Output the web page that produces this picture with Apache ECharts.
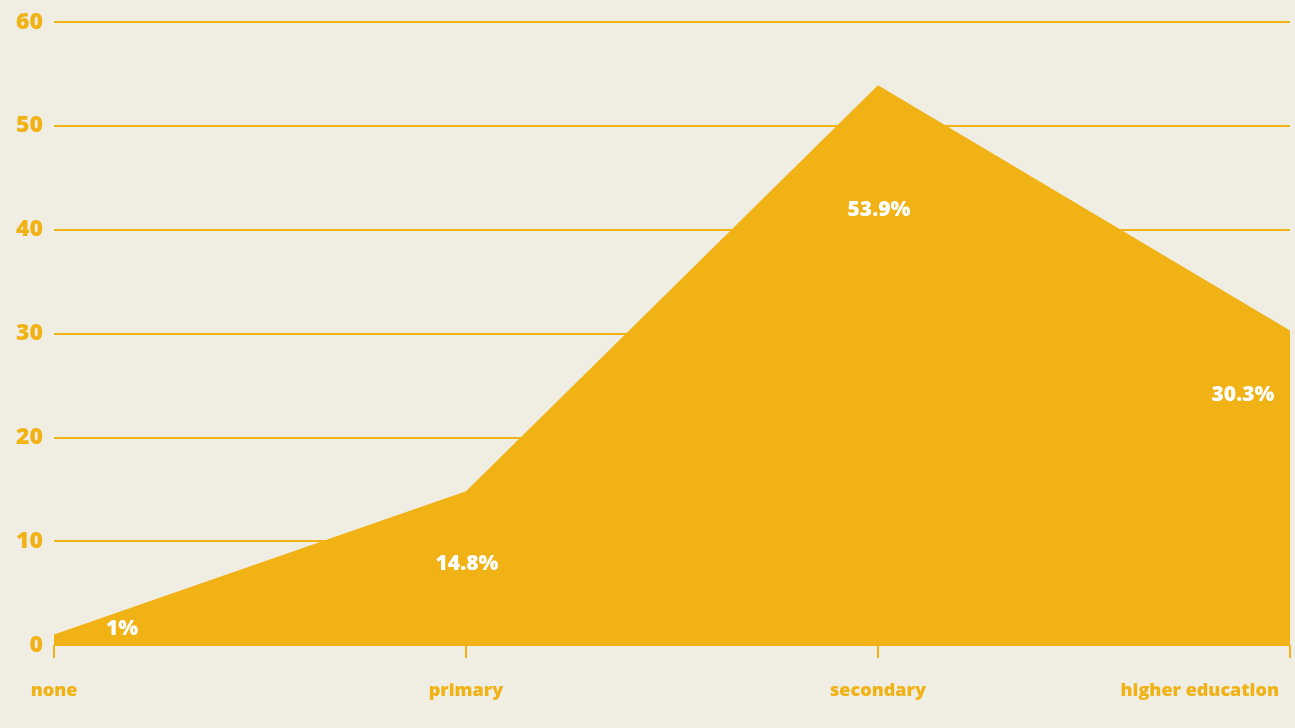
<!DOCTYPE html>
<html>
<head>
    <meta charset="utf-8">
    <title>education level</title>
    <style>
        html, body { margin: 0; padding: 0; background: #f0ede3; }
        #main { width: 1295px; height: 728px; }
    </style>
    <script src="https://cdn.jsdelivr.net/npm/echarts@6/dist/echarts.min.js"></script>
</head>
<body>
<div id="main"></div>
<script type="text/javascript">
    // data
    var categories = ['none', 'primary', 'secondary', 'higher education'];
    var shares = [1, 14.8, 53.9, 30.3];
    var yTicks = { min: 0, max: 60, interval: 10 };

    var orange = '#f0b214';
    var font = '"Open Sans", sans-serif';

    // where each value label sits relative to its point
    var labelOffsets = [[68, 10], [1, 88], [1, 140], [-47, 80]];

    var seriesData = shares.map(function (v, i) {
        return {
            value: v,
            label: { offset: labelOffsets[i] }
        };
    });

    // last category label is right-aligned, pulled in a bit from the edge
    var catData = categories.map(function (c, i) {
        if (i === categories.length - 1) {
            return { value: c, textStyle: { align: 'right', padding: [0, 11, 0, 0] } };
        }
        return c;
    });

    var myChart = echarts.init(document.getElementById('main'));

    var option = {
        backgroundColor: '#f0ede3',
        animation: false,
        grid: { left: 54, right: 5, top: 22, bottom: 83, outerBoundsMode: 'none' },
        xAxis: {
            type: 'category',
            data: catData,
            boundaryGap: false,
            axisLine: { show: false },
            axisTick: {
                show: true,
                alignWithLabel: true,
                length: 13,
                lineStyle: { color: orange, width: 2 }
            },
            axisLabel: {
                color: orange,
                fontFamily: font,
                fontWeight: 800,
                fontSize: 18,
                margin: 37
            },
            splitLine: { show: false }
        },
        yAxis: {
            type: 'value',
            min: yTicks.min,
            max: yTicks.max,
            interval: yTicks.interval,
            axisLine: { show: false },
            axisTick: { show: false },
            axisLabel: {
                color: orange,
                fontFamily: font,
                fontWeight: 800,
                fontSize: 23,
                margin: 11
            },
            splitLine: {
                show: true,
                lineStyle: { color: orange, width: 2 }
            }
        },
        series: [{
            type: 'line',
            data: seriesData,
            symbol: 'circle',
            symbolSize: 0,
            showSymbol: true,
            lineStyle: { width: 0, color: orange },
            itemStyle: { color: orange },
            areaStyle: { color: orange, opacity: 1 },
            label: {
                show: true,
                position: 'top',
                color: '#ffffff',
                fontFamily: font,
                fontWeight: 800,
                fontSize: 21,
                formatter: '{c}%'
            }
        }]
    };
    myChart.setOption(option);
</script>
</body>
</html>
